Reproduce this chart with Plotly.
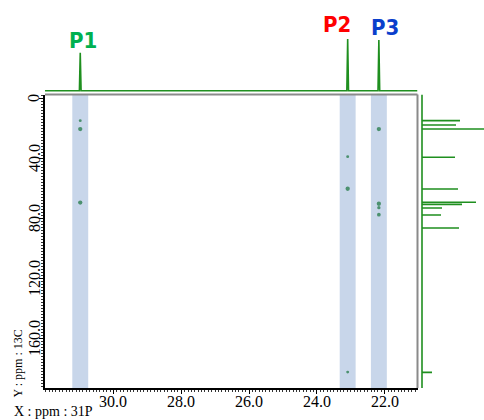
import plotly.graph_objects as go

W, H = 484, 420

# ---------------- data ----------------
X_RANGE = [32.02, 21.03]          # 31P ppm (reversed)
Y_RANGE = [193.3, -2.33]          # 13C ppm (reversed)

P31_PEAKS = [30.98, 23.09, 22.17]
P31_INTENS = [38.0, 51.7, 50.7]
P31_LABELS = ["P1", "P2", "P3"]
P31_LABEL_COLORS = ["#00b050", "#ff0000", "#0a3fcc"]

CROSS_P = [30.98, 30.98, 30.98, 23.09, 23.09, 23.09, 22.17, 22.17, 22.17, 22.17]
CROSS_C = [15.1, 20.7, 69.7, 39.1, 60.5, 182.7, 20.7, 70.5, 73.1, 77.8]
CROSS_I = [1, 2, 2, 1, 2, 1, 2, 2, 1.3, 1.6]

C13_PEAKS = [15.1, 18.0, 20.7, 39.5, 60.7, 69.5, 70.9, 73.3, 78.0, 86.7, 182.9]
C13_INTENS = [38, 34, 62, 33, 36, 54, 40, 20, 19, 37, 10]

X_TICKS = [30.0, 28.0, 26.0, 24.0, 22.0]
X_TICKTEXT = ["30.0", "28.0", "26.0", "24.0", "22.0"]
Y_TICKS = [0, 40, 80, 120, 160]
Y_TICKTEXT = ["0", "40.0", "80.0", "120.0", "160.0"]

GREEN = "#1f8f1f"
DOT = "#17733a"
BAND = "#c8d6ea"
SERIF = "Liberation Serif, Times New Roman, serif"

def px(x):
    return x / W

def py(y):
    return 1 - y / H

fig = go.Figure()

# 2D cross peaks
fig.add_trace(go.Scatter(
    x=CROSS_P, y=CROSS_C, mode="markers",
    marker=dict(color=DOT, size=[1.5 + 1.4 * i for i in CROSS_I], line=dict(width=0)),
    xaxis="x", yaxis="y", showlegend=False, hoverinfo="skip"))

# top 31P projection
tx, ty = [X_RANGE[0]], [0]
for p, h in sorted(zip(P31_PEAKS, P31_INTENS), reverse=True):
    tx += [p + 0.025, p, p - 0.025]
    ty += [0, h, 0]
tx.append(X_RANGE[1]); ty.append(0)
fig.add_trace(go.Scatter(x=tx, y=ty, mode="lines", line=dict(color=GREEN, width=1.6),
                         xaxis="x2", yaxis="y2", showlegend=False, hoverinfo="skip"))

# right 13C projection
rx, ry = [0], [Y_RANGE[1]]
for p, h in sorted(zip(C13_PEAKS, C13_INTENS)):
    rx += [0, h, 0]
    ry += [p, p, p]
rx.append(0); ry.append(Y_RANGE[0])
fig.add_trace(go.Scatter(x=rx, y=ry, mode="lines", line=dict(color=GREEN, width=1.6),
                         xaxis="x3", yaxis="y3", showlegend=False, hoverinfo="skip"))

shapes = []
for p in P31_PEAKS:
    shapes.append(dict(type="rect", xref="x", yref="y domain", x0=p + 0.235, x1=p - 0.235,
                       y0=0, y1=1, fillcolor=BAND, line=dict(width=0), layer="below"))
# gray top/right frame
shapes.append(dict(type="line", xref="x domain", yref="y domain", x0=0, x1=1, y0=1, y1=1,
                   line=dict(color="#8a8a8a", width=2)))
shapes.append(dict(type="line", xref="x domain", yref="y domain", x0=1, x1=1, y0=0, y1=1,
                   line=dict(color="#8a8a8a", width=2)))

annotations = []
label_pos = [(83, 40), (337, 24), (385, 27.5)]
for lab, col, (lx, ly) in zip(P31_LABELS, P31_LABEL_COLORS, label_pos):
    annotations.append(dict(text="<b>%s</b>" % lab, x=px(lx), y=py(ly), xref="paper", yref="paper",
                            xanchor="center", yanchor="middle", showarrow=False,
                            font=dict(family="DejaVu Sans Condensed", size=22, color=col)))

# tick labels (serif, placed like the reference)
for v, t in zip(X_TICKS, X_TICKTEXT):
    annotations.append(dict(text=t, x=v, y=py(401), xref="x", yref="paper",
                            xanchor="center", yanchor="middle", showarrow=False,
                            font=dict(family=SERIF, size=16, color="black")))
for v, t in zip(Y_TICKS, Y_TICKTEXT):
    annotations.append(dict(text=t, x=px(34), y=v, xref="paper", yref="y",
                            xanchor="center", yanchor="middle", textangle=-90, showarrow=False,
                            font=dict(family=SERIF, size=16, color="black")))

annotations.append(dict(text="X : ppm : 31P", x=px(12), y=py(421), xref="paper", yref="paper",
                        xanchor="left", yanchor="bottom", showarrow=False,
                        font=dict(family=SERIF, size=14, color="black")))
annotations.append(dict(text="Y : ppm : 13C", x=px(17), y=py(363.5), xref="paper", yref="paper",
                        xanchor="center", yanchor="middle", textangle=-90, showarrow=False,
                        font=dict(family=SERIF, size=12, color="black")))

fig.update_layout(
    width=W, height=H, margin=dict(l=0, r=0, t=0, b=0),
    paper_bgcolor="white", plot_bgcolor="white",
    shapes=shapes, annotations=annotations,
    xaxis=dict(domain=[px(45), px(417.5)], range=X_RANGE, anchor="y",
               tickmode="array", tickvals=X_TICKS, showticklabels=False,
               ticks="outside", ticklen=4, tickcolor="black",
               showline=True, linecolor="black", linewidth=1.5, showgrid=False, zeroline=False,
               minor=dict(tickmode="linear", tick0=0, dtick=0.1, ticks="outside", ticklen=2,
                          tickcolor="#333", showgrid=False)),
    yaxis=dict(domain=[py(388), py(94.5)], range=Y_RANGE, anchor="x",
               tickmode="array", tickvals=Y_TICKS, showticklabels=False,
               ticks="outside", ticklen=4, tickcolor="black",
               showline=True, linecolor="black", linewidth=1.5, showgrid=False, zeroline=False,
               minor=dict(tickmode="linear", tick0=0, dtick=2, ticks="outside", ticklen=2,
                          tickcolor="#333", showgrid=False)),
    xaxis2=dict(domain=[px(45), px(417.5)], range=X_RANGE, anchor="y2", visible=False),
    yaxis2=dict(domain=[py(93), 1], range=[-2.3, 90.7], anchor="x2", visible=False),
    xaxis3=dict(domain=[px(419), 1], range=[-3, 62], anchor="y3", visible=False),
    yaxis3=dict(domain=[py(388), py(94.5)], range=Y_RANGE, anchor="x3", visible=False),
)

fig.write_html("out.html")
